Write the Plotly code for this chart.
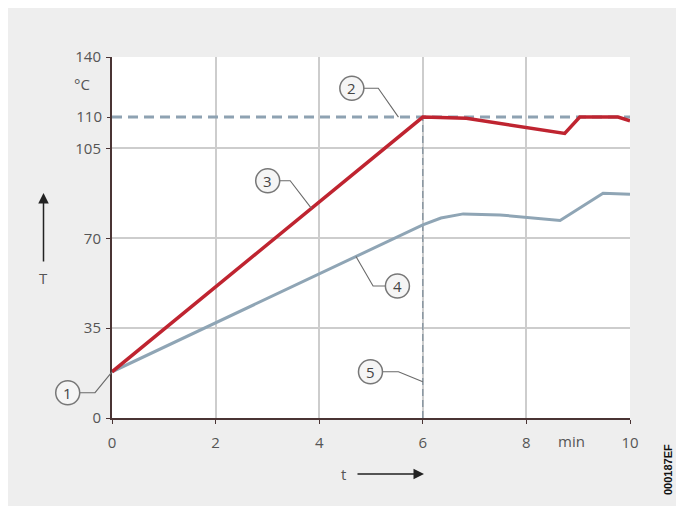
import numpy as np
import plotly.graph_objects as go

# ---------------- data ----------------
red_t = [0, 6, 6.84, 8.74, 9.03, 9.77, 10]
red_T = [18, 110, 109.8, 107.4, 110, 110, 109.4]
blue_t = [0, 6, 6.35, 6.78, 7.49, 8.65, 9.48, 10]
blue_T = [18, 75.2, 77.9, 79.5, 79.1, 76.9, 87.5, 87.1]
setpoint_T = 110
setpoint_t = [0, 10]
marker_t = 6
x_ticks = [0, 2, 4, 6, 8, 10]
y_ticks = [0, 35, 70, 105, 140]
y_tick_extra = [110]

# ---------------- layout constants ----------------
W, H = 668, 498          # figure size (page adds an 8px body margin)
OFF = 8
L, R, T, B = 104, 46, 49, 88
PW, PH = W - L - R, H - T - B
X_RANGE = [0, 10]
# broken temperature scale: real value -> plotted position
Y_REAL_BREAKS = [0, 105, 110, 140]
Y_PLOT_BREAKS = [0, 105, 117.2, 140.6]


def ty(v):
    return np.interp(v, Y_REAL_BREAKS, Y_PLOT_BREAKS)


def px(x):  # data x -> paper
    return (x - X_RANGE[0]) / (X_RANGE[1] - X_RANGE[0])


def py(yreal):  # real y -> paper
    return float(ty(yreal)) / Y_PLOT_BREAKS[-1]


def pix(x, y):  # page pixel -> paper
    return (x - OFF - L) / PW, (H - B - (y - OFF)) / PH


RED = "#bf2430"
BLUE = "#8fa5b5"
DASH = "#8ea2b2"
GRID = "#cdcdcd"
AXIS = "#4a3434"
TXT = "#555555"
FONT = "Open Sans"

fig = go.Figure()

# setpoint (2)
fig.add_trace(go.Scatter(x=setpoint_t, y=ty([setpoint_T, setpoint_T]), mode="lines",
                         line=dict(color=DASH, width=3, dash="10px,6px"), hoverinfo="skip"))
# vertical marker (5)
fig.add_trace(go.Scatter(x=[marker_t, marker_t], y=ty([0, setpoint_T]), mode="lines",
                         line=dict(color="#7c8c9a", width=1.2, dash="7px,4px"), hoverinfo="skip"))
# blue (4)
fig.add_trace(go.Scatter(x=blue_t, y=ty(blue_T), mode="lines",
                         line=dict(color=BLUE, width=3), hoverinfo="skip"))
# red (3)
fig.add_trace(go.Scatter(x=red_t, y=ty(red_T), mode="lines",
                         line=dict(color=RED, width=3.5), hoverinfo="skip"))

# ---------------- callouts ----------------
red_plot = ty(red_T)
blue_plot = ty(blue_T)
t3, t4 = 3.85, 4.71
callouts = [
    # (label, circle(x, yreal), elbow x, target (x, yplot))
    ("1", (-0.855, 9.85), -0.328, (0, float(ty(18)))),
    ("2", (4.63, 124.4), 5.14, (5.53, float(ty(110)))),
    ("3", (3.006, 92.4), 3.44, (t3, float(np.interp(t3, red_t, red_plot)))),
    ("4", (5.51, 51.4), 5.04, (t4, float(np.interp(t4, blue_t, blue_plot)))),
    ("5", (4.99, 18.0), 5.53, (6.0, float(ty(14.1)))),
]
shapes = []
annotations = []
rad = 12
for lab, (cx, cy), ex, (tx, typ) in callouts:
    pcx, pcy = px(cx), py(cy)
    pex = px(ex)
    ptx, pty = px(tx), typ / Y_PLOT_BREAKS[-1]
    shapes.append(dict(type="path", xref="paper", yref="paper",
                       path=f"M {pcx},{pcy} L {pex},{pcy} L {ptx},{pty}",
                       line=dict(color="#6a6a6a", width=1.1), layer="above"))
    shapes.append(dict(type="circle", xref="paper", yref="paper",
                       x0=pcx - rad / PW, x1=pcx + rad / PW,
                       y0=pcy - rad / PH, y1=pcy + rad / PH,
                       line=dict(color="#777777", width=1.5), fillcolor="#f5f5f5", layer="above"))
    annotations.append(dict(xref="paper", yref="paper", x=pcx, y=pcy, text=lab, showarrow=False,
                            font=dict(family=FONT, size=15, color="#444444"),
                            xanchor="center", yanchor="middle"))


def add_text(x, y, text, size=15, color=TXT, **kw):
    ax_, ay_ = pix(x, y)
    d = dict(xref="paper", yref="paper", x=ax_, y=ay_, text=text, showarrow=False,
             font=dict(family=FONT, size=size, color=color), xanchor="center", yanchor="middle")
    d.update(kw)
    annotations.append(d)


add_text(82, 84, "°C")
add_text(571, 441, "min")
add_text(343.5, 474, "t")
add_text(43.5, 278, "T")
lx, ly = pix(668, 470)
annotations.append(dict(xref="paper", yref="paper", x=lx, y=ly,
                        text="<b>000187EF</b>", textangle=-90, showarrow=False,
                        font=dict(family="Liberation Sans", size=11, color="#111111"),
                        xanchor="center", yanchor="middle"))
# arrows
hx, hy = pix(424, 474)
annotations.append(dict(xref="paper", yref="paper", x=hx, y=hy, ax=-68, ay=0, text="",
                        showarrow=True, arrowhead=2, arrowsize=1.4, arrowwidth=1.5,
                        arrowcolor="#222222"))
hx, hy = pix(43.5, 193)
annotations.append(dict(xref="paper", yref="paper", x=hx, y=hy, ax=0, ay=70, text="",
                        showarrow=True, arrowhead=2, arrowsize=1.4, arrowwidth=1.5,
                        arrowcolor="#222222"))

tick_common = dict(ticks="outside", ticklen=4, tickcolor=AXIS, tickwidth=1,
                   tickfont=dict(family=FONT, size=15, color=TXT), fixedrange=True)

fig.update_layout(
    width=W, height=H,
    margin=dict(l=L, r=R, t=T, b=B, pad=0),
    paper_bgcolor="#eeeeee",
    plot_bgcolor="white",
    showlegend=False,
    shapes=shapes,
    annotations=annotations,
    xaxis=dict(range=X_RANGE, tickvals=x_ticks, ticktext=[str(v) for v in x_ticks],
               showgrid=True, gridcolor=GRID, gridwidth=1.5, zeroline=False,
               showline=True, linecolor=AXIS, linewidth=2, ticklabelstandoff=6,
               **tick_common),
    yaxis=dict(range=[0, Y_PLOT_BREAKS[-1]], tickvals=list(ty(y_ticks)),
               ticktext=[str(v) for v in y_ticks],
               showgrid=True, gridcolor=GRID, gridwidth=1.5, zeroline=False,
               showline=True, linecolor=AXIS, linewidth=2, ticklabelstandoff=2,
               **tick_common),
    yaxis2=dict(range=[0, Y_PLOT_BREAKS[-1]], overlaying="y", side="left",
                tickvals=list(ty(y_tick_extra)), ticktext=[str(v) for v in y_tick_extra],
                showgrid=False, zeroline=False, showline=False, ticklabelstandoff=2,
                **tick_common),
)
# dummy trace to activate yaxis2
fig.add_trace(go.Scatter(x=[None], y=[None], yaxis="y2", hoverinfo="skip"))

fig.write_html("out.html")
